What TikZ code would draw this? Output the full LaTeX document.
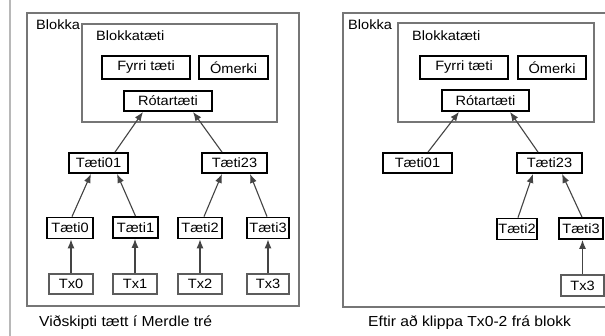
\documentclass[tikz,border=0pt]{standalone}
\usepackage{fontspec}
\setmainfont{Liberation Sans}[FakeStretch=1.08]
\usetikzlibrary{arrows.meta}
\definecolor{framegray}{HTML}{767676}
\definecolor{wiregray}{HTML}{444444}
\definecolor{txgray}{HTML}{5C5C5C}
\tikzset{
  every node/.style={font=\fontsize{13.5}{15}\selectfont, inner sep=0pt},
  frame/.style={draw=framegray, line width=1.4pt},
  hashbox/.style={draw=black, line width=1.8pt, fill=white},
  txbox/.style={draw=txgray, line width=1.2pt, fill=white},
  label/.style={anchor=west},
  caption/.style={anchor=west, font=\fontsize{14.5}{16}\selectfont},
  wire/.style={draw=wiregray, line width=1.1pt, -{Latex[length=9pt,width=7pt]}},
}
\begin{document}
\begin{tikzpicture}[x=1pt, y=-1pt]
\clip (0,0) rectangle (605,336);
\fill[white] (0,0) rectangle (605,336);
% left margin rule
\draw[draw=black!28, line width=1.6pt] (10,0) -- (10,336);

% ---------- full block ----------
\node[frame, minimum width=272pt, minimum height=293pt] (blkL) at (163,159.5) {};
\node[label] (blkLt) at (36,25) {Blokka};
\node[frame, fill=white, minimum width=195pt, minimum height=98pt] (hdrL) at (179.5,73) {};
\node[label] (hdrLt) at (96,36) {Blokkatæti};
\node[hashbox, minimum width=88pt, minimum height=23pt] (prevL) at (146,67.5) {Fyrri tæti};
\node[hashbox, minimum width=69pt, minimum height=23pt] (nonceL) at (233.5,67.5) {Ómerki};
\node[hashbox, minimum width=88pt, minimum height=20pt] (rootL) at (168,101) {Rótartæti};

\node[hashbox, minimum width=59pt, minimum height=20pt] (h01L) at (98.5,163) {Tæti01};
\node[hashbox, minimum width=65pt, minimum height=20pt] (h23L) at (234.5,163) {Tæti23};
\node[hashbox, minimum width=46pt, minimum height=21pt] (h0L) at (70,228) {Tæti0};
\node[hashbox, minimum width=45pt, minimum height=21pt] (h1L) at (135.5,227.5) {Tæti1};
\node[hashbox, minimum width=44pt, minimum height=21pt] (h2L) at (200,228) {Tæti2};
\node[hashbox, minimum width=42pt, minimum height=21pt] (h3L) at (268,228) {Tæti3};
\node[txbox, minimum width=44pt, minimum height=20pt] (tx0L) at (71,284) {Tx0};
\node[txbox, minimum width=44pt, minimum height=20pt] (tx1L) at (135,284) {Tx1};
\node[txbox, minimum width=44pt, minimum height=20pt] (tx2L) at (200,284) {Tx2};
\node[txbox, minimum width=42pt, minimum height=20pt] (tx3L) at (268,284) {Tx3};

\draw[wire] ([xshift=16.5pt]h01L.north) -- ([xshift=-25pt]rootL.south);
\draw[wire] ([xshift=-12.5pt]h23L.north) -- ([xshift=25pt]rootL.south);
\draw[wire] ([xshift=2pt]h0L.north) -- ([xshift=-7.5pt]h01L.south);
\draw[wire] ([xshift=0pt]h1L.north) -- ([xshift=18.5pt]h01L.south);
\draw[wire] ([xshift=4pt]h2L.north) -- ([xshift=-12.5pt]h23L.south);
\draw[wire] ([xshift=-1pt]h3L.north) -- ([xshift=15.5pt]h23L.south);
\draw[wire] (tx0L.north) -- (tx0L.north |- h0L.south);
\draw[wire] (tx1L.north) -- (tx1L.north |- h1L.south);
\draw[wire] (tx2L.north) -- (tx2L.north |- h2L.south);
\draw[wire] (tx3L.north) -- (tx3L.north |- h3L.south);

\node[caption] (capL) at (39,323) {Viðskipti tætt í Merdle tré};

% ---------- pruned block ----------
\node[frame, minimum width=277pt, minimum height=294pt] (blkR) at (481.5,160) {};
\node[label] (blkRt) at (348,25) {Blokka};
\node[frame, fill=white, minimum width=196pt, minimum height=99pt] (hdrR) at (496,72.5) {};
\node[label] (hdrRt) at (412,36) {Blokkatæti};
\node[hashbox, minimum width=88pt, minimum height=23pt] (prevR) at (464,67.5) {Fyrri tæti};
\node[hashbox, minimum width=68pt, minimum height=23pt] (nonceR) at (552,67.5) {Ómerki};
\node[hashbox, minimum width=87pt, minimum height=21pt] (rootR) at (485.5,100.5) {Rótartæti};

\node[hashbox, minimum width=69pt, minimum height=20pt] (h01R) at (417.5,163) {Tæti01};
\node[hashbox, minimum width=65pt, minimum height=20pt] (h23R) at (549.5,163) {Tæti23};
\node[hashbox, minimum width=40pt, minimum height=21pt] (h2R) at (517,229) {Tæti2};
\node[hashbox, minimum width=44pt, minimum height=21pt] (h3R) at (581,228.5) {Tæti3};
\node[txbox, minimum width=43pt, minimum height=21pt] (tx3R) at (582.5,285.5) {Tx3};

\draw[wire] ([xshift=10.5pt]h01R.north) -- ([xshift=-26.5pt]rootR.south);
\draw[wire] ([xshift=-11.5pt]h23R.north) -- ([xshift=24.5pt]rootR.south);
\draw[wire] ([xshift=1pt]h2R.north) -- ([xshift=-16.5pt]h23R.south);
\draw[wire] ([xshift=1pt]h3R.north) -- ([xshift=12.5pt]h23R.south);
\draw[wire] (tx3R.north) -- (tx3R.north |- h3R.south);

\node[caption] (capR) at (368,323) {Eftir að klippa Tx0-2 frá blokk};
\end{tikzpicture}
\end{document}
